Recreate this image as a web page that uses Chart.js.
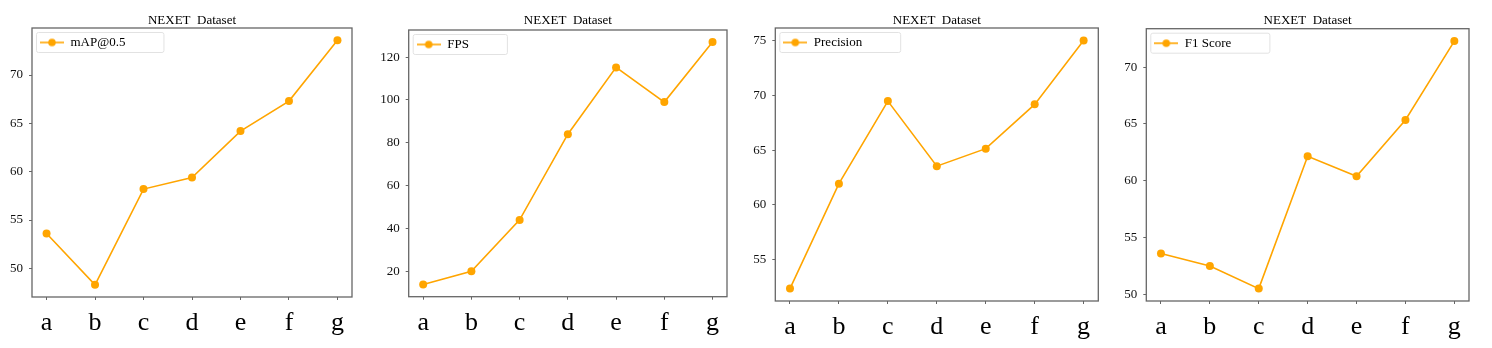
<!DOCTYPE html>
<html>
<head>
<meta charset="utf-8">
<script src="https://cdn.jsdelivr.net/npm/chart.js@4"></script>
<style>
  body { margin: 0; background: #fff; }
  .panel { position: absolute; top: 0; width: 373px; height: 348px; }
</style>
</head>
<body>
<div class="panel" style="left:0px"><canvas id="c0"></canvas></div>
<div class="panel" style="left:373px"><canvas id="c1"></canvas></div>
<div class="panel" style="left:746px"><canvas id="c2"></canvas></div>
<div class="panel" style="left:1119px"><canvas id="c3"></canvas></div>
<script>
// categories on the x axis
const categories = ["a", "b", "c", "d", "e", "f", "g"];

// one series per panel
const mapValues = [53.6, 48.3, 58.2, 59.4, 64.2, 67.3, 73.6];
const fpsValues = [13.8, 20.0, 44.0, 84.0, 115.2, 99.0, 127.0];
const precisionValues = [52.35, 61.95, 69.5, 63.55, 65.15, 69.2, 75.05];
const f1Values = [53.6, 52.5, 50.5, 62.15, 60.4, 65.35, 72.3];

// y tick labels per panel
const mapTicks = [50, 55, 60, 65, 70];
const fpsTicks = [20, 40, 60, 80, 100, 120];
const precisionTicks = [55, 60, 65, 70, 75];
const f1Ticks = [50, 55, 60, 65, 70];

const seriesNames = ["mAP@0.5", "FPS", "Precision", "F1 Score"];
const titleText = "NEXET  Dataset";

const orange = "#ffa500";
const axisGray = "#666666";

Chart.defaults.font.family = "'Liberation Serif', 'Times New Roman', serif";
Chart.defaults.color = "#000";

// little line+dot glyph for the legend
function legendGlyph(){
    const c = document.createElement("canvas");
    c.width = 24; c.height = 10;
    const g = c.getContext("2d");
    g.strokeStyle = orange;
    g.lineWidth = 1.6;
    g.beginPath(); g.moveTo(0, 5); g.lineTo(24, 5); g.stroke();
    g.fillStyle = orange;
    g.beginPath(); g.arc(12, 5, 3.8, 0, Math.PI*2); g.fill();
    return c;
}
const glyph = legendGlyph();

// frame round the plot area and a faint box round the legend
const framePlugin = {
    id: "frame",
    afterLayout(chart){
        // keep the legend inside the plot, at its top-left corner
        chart.legend.top = chart.chartArea.top;
        chart.legend.left = chart.chartArea.left;
    },
    afterDraw(chart){
        const ctx = chart.ctx;
        const a = chart.chartArea;
        ctx.save();
        ctx.strokeStyle = axisGray;
        ctx.lineWidth = 1.3;
        ctx.strokeRect(a.left, a.top, a.right - a.left, a.bottom - a.top);
        const hb = chart.legend.legendHitBoxes[0];
        if(hb){
            ctx.strokeStyle = "#e2e2e2";
            ctx.lineWidth = 1;
            ctx.beginPath();
            ctx.roundRect(hb.left - 3.5, hb.top - 3.5, hb.width + 42, hb.height + 7, 2);
            ctx.stroke();
        }
        ctx.restore();
    }
};

// plot box per panel, in canvas pixels: left, right, top, bottom
const boxes = [
    [32, 352, 28, 297],
    [35.7, 354, 30, 296.7],
    [29.3, 352.3, 28, 301],
    [27.3, 350, 28.7, 301]
];

function makeChart(id, name, values, ticks, box){
    const lo = Math.min(...values), hi = Math.max(...values);
    const pad = (hi - lo) * 0.05;
    const [left, right, top, bottom] = box;
    const titleH = 13 * 1.2;
    return new Chart(document.getElementById(id), {
        type: "line",
        data: {
            datasets: [{
                label: name,
                data: values.map((v, i) => ({x: i, y: v})),
                borderColor: orange,
                backgroundColor: orange,
                borderWidth: 1.6,
                pointRadius: 4,
                pointBorderWidth: 0,
                pointBackgroundColor: orange,
                tension: 0
            }]
        },
        options: {
            responsive: true,
            maintainAspectRatio: false,
            animation: false,
            layout: { padding: { left: 0, right: 373 - right, top: 0, bottom: 0 } },
            plugins: {
                title: {
                    display: true,
                    text: titleText,
                    fullSize: false,
                    font: { size: 13, weight: "normal", lineHeight: 1.2 },
                    color: "#000",
                    padding: { top: 13, bottom: top - 13 - titleH }
                },
                legend: {
                    position: "chartArea",
                    align: "start",
                    labels: {
                        usePointStyle: true,
                        pointStyleWidth: 24,
                        padding: 8,
                        font: { size: 13 },
                        color: "#000",
                        generateLabels: (chart) => [{
                            text: name,
                            pointStyle: glyph,
                            fillStyle: orange,
                            strokeStyle: orange,
                            lineWidth: 0,
                            datasetIndex: 0
                        }]
                    }
                },
                tooltip: { enabled: false }
            },
            scales: {
                x: {
                    type: "linear",
                    min: -0.3,
                    max: 6.3,
                    border: { display: false },
                    grid: { drawOnChartArea: false, drawTicks: true, tickLength: 3, color: axisGray },
                    afterBuildTicks: (s) => { s.ticks = categories.map((c, i) => ({value: i})); },
                    afterFit: (s) => { s.height = 348 - bottom; },
                    ticks: {
                        padding: 8,
                        font: { size: 26 },
                        color: "#000",
                        maxRotation: 0,
                        autoSkip: false,
                        callback: (v) => categories[v]
                    }
                },
                y: {
                    min: lo - pad,
                    max: hi + pad,
                    border: { display: false },
                    grid: { drawOnChartArea: false, drawTicks: true, tickLength: 3, color: axisGray },
                    afterBuildTicks: (s) => { s.ticks = ticks.map(t => ({value: t})); },
                    afterFit: (s) => { s.width = left; },
                    ticks: {
                        padding: 6,
                        font: { size: 13 },
                        color: "#111"
                    }
                }
            }
        },
        plugins: [framePlugin]
    });
}

makeChart("c0", seriesNames[0], mapValues, mapTicks, boxes[0]);
makeChart("c1", seriesNames[1], fpsValues, fpsTicks, boxes[1]);
makeChart("c2", seriesNames[2], precisionValues, precisionTicks, boxes[2]);
makeChart("c3", seriesNames[3], f1Values, f1Ticks, boxes[3]);
</script>
</body>
</html>
